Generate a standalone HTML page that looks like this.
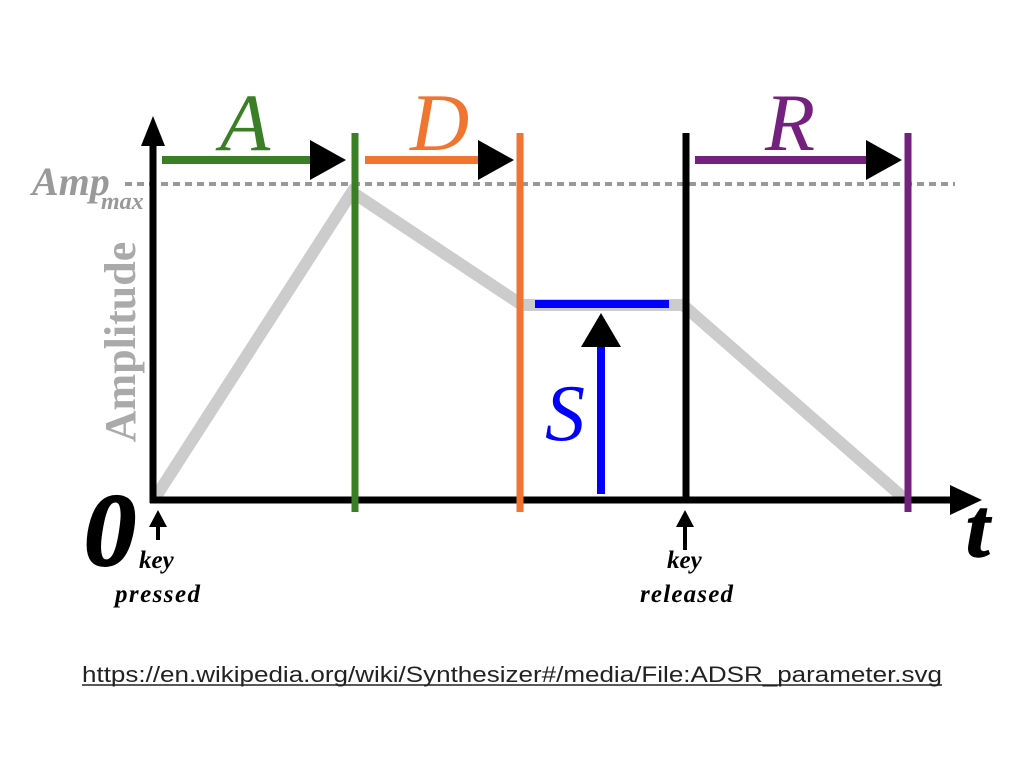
<!DOCTYPE html>
<html><head><meta charset="utf-8"><style>html,body{margin:0;padding:0;background:#fff;width:1024px;height:768px;overflow:hidden}</style></head><body>
<svg width="1024" height="768" xmlns="http://www.w3.org/2000/svg">
<rect width="1024" height="768" fill="#fff"/>
<polyline points="155,498 352,192 522,305 683,305 906,500" fill="none" stroke="#ccc" stroke-width="12" stroke-linejoin="miter"/>
<line x1="125" y1="184" x2="955" y2="184" stroke="#999" stroke-width="4" stroke-dasharray="7,5"/>
<line x1="153" y1="503" x2="153" y2="140" stroke="#000" stroke-width="7"/>
<polygon points="153,116 141,146 165,146" fill="#000"/>
<line x1="150" y1="500" x2="955" y2="500" stroke="#000" stroke-width="7"/>
<polygon points="982,500 950,485 950,515" fill="#000"/>
<line x1="355" y1="133" x2="355" y2="512" stroke="#3a7f25" stroke-width="7"/>
<line x1="520" y1="133" x2="520" y2="512" stroke="#ef7530" stroke-width="7"/>
<line x1="686" y1="133" x2="686" y2="500" stroke="#000" stroke-width="7"/>
<line x1="908" y1="133" x2="908" y2="512" stroke="#74207e" stroke-width="7"/>
<line x1="162" y1="160" x2="315" y2="160" stroke="#3a7f25" stroke-width="8"/>
<polygon points="346,160 310,140 310,180" fill="#000"/>
<line x1="365" y1="160" x2="482" y2="160" stroke="#ef7530" stroke-width="8"/>
<polygon points="514,160 478,140 478,180" fill="#000"/>
<line x1="695" y1="160" x2="870" y2="160" stroke="#74207e" stroke-width="8"/>
<polygon points="902,160 866,140 866,180" fill="#000"/>
<line x1="535" y1="304" x2="669" y2="304" stroke="#0000ff" stroke-width="8"/>
<line x1="601" y1="494" x2="601" y2="340" stroke="#0000ff" stroke-width="8"/>
<polygon points="601,313 581,347 621,347" fill="#000"/>
<line x1="158" y1="540" x2="158" y2="525" stroke="#000" stroke-width="4"/>
<polygon points="158,510 149,527 167,527" fill="#000"/>
<line x1="685" y1="550" x2="685" y2="525" stroke="#000" stroke-width="4"/>
<polygon points="685,510 676,527 694,527" fill="#000"/>
<g font-family="Liberation Serif, serif" font-style="italic">
<text x="220" y="150" font-size="82" fill="#3a7f25">A</text>
<text x="410" y="150" font-size="82" fill="#ef7530">D</text>
<text x="765" y="150" font-size="82" fill="#74207e">R</text>
<text x="545" y="440" font-size="80" fill="#0000ff">S</text>
<text x="32" y="195" font-size="40" font-weight="bold" fill="#999">Amp</text>
<text x="101" y="209" font-size="24" font-weight="bold" fill="#999">max</text>
<text x="84" y="565" font-size="104" font-weight="bold" fill="#000" stroke="#000" stroke-width="2">0</text>
<text x="966" y="556" font-size="84" font-weight="bold" fill="#000" stroke="#000" stroke-width="1.5">t</text>
<text x="139" y="568" font-size="25" font-weight="bold" fill="#000">key</text>
<text x="115" y="602" font-size="25" font-weight="bold" fill="#000" textLength="85">pressed</text>
<text x="667" y="568" font-size="25" font-weight="bold" fill="#000">key</text>
<text x="640" y="602" font-size="25" font-weight="bold" fill="#000" textLength="93">released</text>
</g>
<text transform="translate(135,342) rotate(-90)" text-anchor="middle" font-family="Liberation Serif, serif" font-weight="bold" font-size="44" fill="#aaa">Amplitude</text>
<text x="82" y="682" font-family="Liberation Sans, sans-serif" font-size="22" fill="#222" textLength="860" lengthAdjust="spacingAndGlyphs">https://en.wikipedia.org/wiki/Synthesizer#/media/File:ADSR_parameter.svg</text>
<line x1="82" y1="685" x2="942" y2="685" stroke="#222" stroke-width="1.5"/>
</svg>
</body></html>
